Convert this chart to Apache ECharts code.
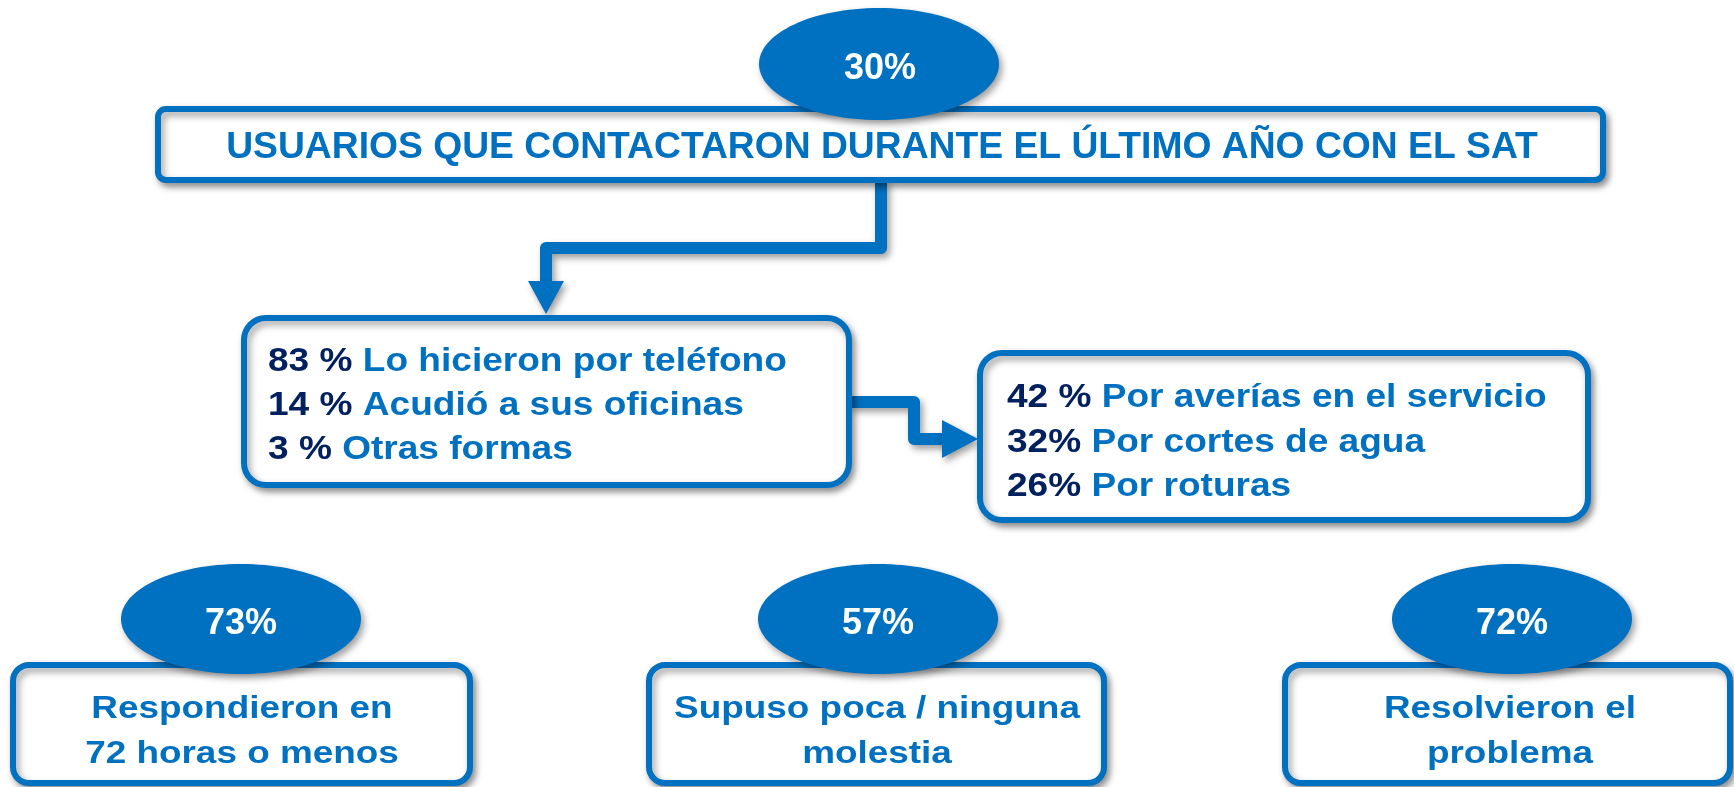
<!DOCTYPE html>
<html>
<head>
<meta charset="utf-8">
<script src="https://cdn.jsdelivr.net/npm/echarts@6/dist/echarts.min.js"></script>
<style>
html,body{margin:0;padding:0;background:#fff;}
#chart{width:1734px;height:787px;}
</style>
</head>
<body>
<div id="chart"></div>
<script>
// ---- data ----
const topPct = '30%';
const topTitle = 'USUARIOS QUE CONTACTARON DURANTE EL ÚLTIMO AÑO CON EL SAT';
const channelPct = ['83 %', '14 %', '3 %'];
const channelLabels = ['Lo hicieron por teléfono', 'Acudió a sus oficinas', 'Otras formas'];
const reasonPct = ['42 %', '32%', '26%'];
const reasonLabels = ['Por averías en el servicio', 'Por cortes de agua', 'Por roturas'];
const outcomePct = ['73%', '57%', '72%'];
const outcomeLabels = [
  ['Respondieron en', '72 horas o menos'],
  ['Supuso poca / ninguna', 'molestia'],
  ['Resolvieron el', 'problema']
];

// ---- styling / layout ----
const BLUE = '#0070C0';
const NAVY = '#002060';
const FONT = "'Liberation Sans', Arial, sans-serif";
const DY = 3; // vertical text correction
const shadow = { shadowColor: 'rgba(0,0,0,0.38)', shadowBlur: 7, shadowOffsetX: 3, shadowOffsetY: 4 };

function box(x, y, w, h, r) {
  return { type: 'rect', shape: { x: x, y: y, width: w, height: h, r: r },
    style: Object.assign({ fill: '#fff', stroke: BLUE, lineWidth: 6 }, shadow) };
}
function oval(cx, cy, rx, ry) {
  return { type: 'ellipse', shape: { cx: cx, cy: cy, rx: rx, ry: ry },
    style: Object.assign({ fill: BLUE }, shadow) };
}
function label(txt, x, y, size, color, align, sx) {
  return { type: 'text', x: x, y: y + DY, scaleX: sx || 1,
    style: { text: txt, fill: color, font: 'bold ' + size + 'px ' + FONT,
      textAlign: align, textVerticalAlign: 'middle' } };
}
function richLine(pct, txt, x, y) {
  return { type: 'text', x: x, y: y + DY, scaleX: 1.09,
    style: { text: '{n|' + pct + '} {t|' + txt + '}', textAlign: 'left', textVerticalAlign: 'middle',
      font: 'bold 34px ' + FONT, fill: BLUE,
      rich: {
        n: { fill: NAVY, font: 'bold 34px ' + FONT },
        t: { fill: BLUE, font: 'bold 34px ' + FONT }
      } } };
}

const els = [];
// connectors
els.push({ type: 'polyline', shape: { points: [[881, 180], [881, 248], [546, 248], [546, 284]] },
  style: Object.assign({ stroke: BLUE, lineWidth: 12, fill: null, lineJoin: 'round' }, shadow) });
els.push({ type: 'polygon', shape: { points: [[528, 281], [564, 281], [546, 314]] },
  style: Object.assign({ fill: BLUE }, shadow) });
els.push({ type: 'polyline', shape: { points: [[850, 402], [914, 402], [914, 439], [946, 439]] },
  style: Object.assign({ stroke: BLUE, lineWidth: 12, fill: null, lineJoin: 'round' }, shadow) });
els.push({ type: 'polygon', shape: { points: [[942, 420], [942, 458], [978, 439]] },
  style: Object.assign({ fill: BLUE }, shadow) });

// top box + ellipse
els.push(box(158, 109, 1445, 71, 8));
els.push(oval(879, 64, 120, 56));
els.push(label(topPct, 880, 66, 36, '#fff', 'center'));
els.push(label(topTitle, 882, 145, 36, BLUE, 'center', 1.035));

// middle boxes
els.push(box(244, 318, 605, 167, 22));
els.push(box(980, 353, 608, 167, 22));
const chY = [359, 403, 447];
channelPct.forEach(function (p, i) { els.push(richLine(p, channelLabels[i], 268, chY[i])); });
const rsY = [395, 440, 484];
reasonPct.forEach(function (p, i) { els.push(richLine(p, reasonLabels[i], 1007, rsY[i])); });

// bottom row
const bx = [13, 649, 1285];
const bw = [457, 455, 445];
const ex = [241, 878, 1512];
const tx = [242, 877, 1510];
outcomePct.forEach(function (p, i) {
  els.push(box(bx[i], 665, bw[i], 118, 16));
  els.push(oval(ex[i], 619, 120, 55));
  els.push(label(p, ex[i], 621, 36, '#fff', 'center'));
  els.push(label(outcomeLabels[i][0], tx[i], 706, 31, BLUE, 'center', 1.19));
  els.push(label(outcomeLabels[i][1], tx[i], 751, 31, BLUE, 'center', 1.19));
});

const chart = echarts.init(document.getElementById('chart'), null, { renderer: 'canvas' });
chart.setOption({
  backgroundColor: '#fff',
  animation: false,
  graphic: { elements: els }
});
</script>
</body>
</html>
